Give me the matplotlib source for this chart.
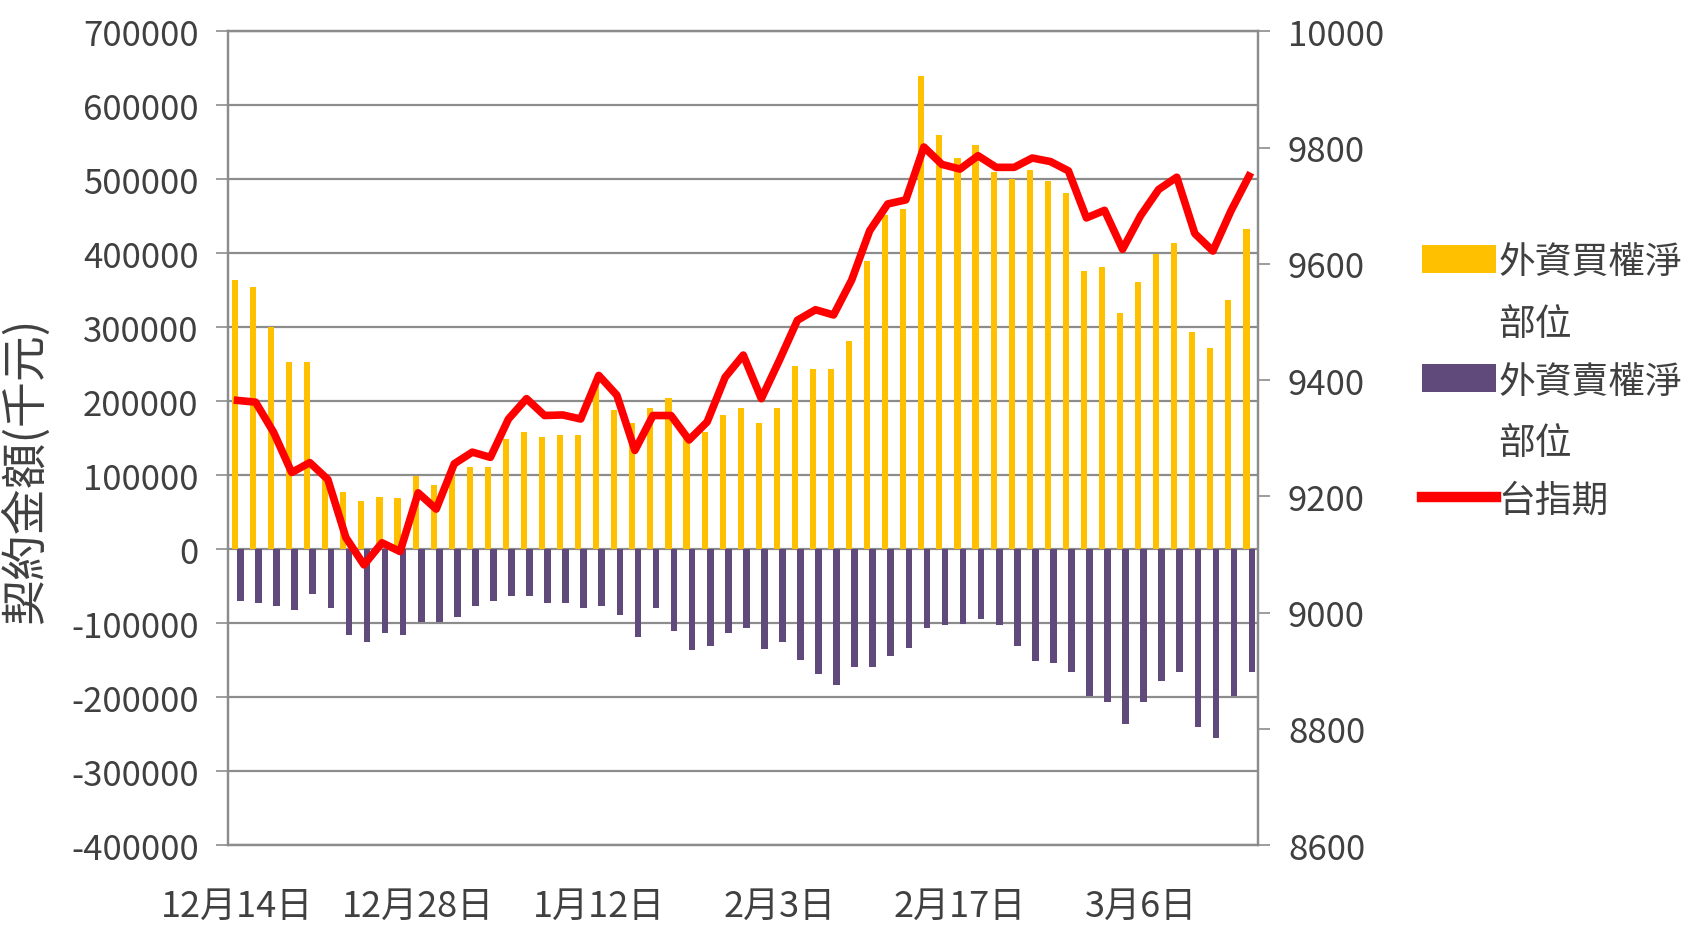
import numpy as np
import matplotlib
matplotlib.use("Agg")
import matplotlib.pyplot as plt
import matplotlib.patches as mpatches
from matplotlib.container import BarContainer
from matplotlib.legend_handler import HandlerPatch, update_from_first_child

plt.rcParams['font.family'] = ['Noto Sans CJK TC', 'DejaVu Sans']
plt.rcParams['axes.unicode_minus'] = False

# 外資買權淨部位 (千元)
buy = [364000, 354500, 300000, 253000, 253000, 95000, 77500, 65000, 71000, 68500,
       99000, 87000, 108000, 111000, 111000, 149000, 158000, 152000, 154500, 154500,
       221000, 188000, 170000, 191000, 204000, 150000, 158000, 182000, 191000, 170000,
       191000, 247000, 244000, 244000, 282000, 389000, 452000, 460000, 639000, 560000,
       529000, 547000, 510000, 500000, 513000, 497000, 482000, 376500, 381000, 319000,
       361000, 399000, 414000, 294000, 272000, 337000, 432500]

# 外資賣權淨部位 (千元)
sell = [-70000, -73000, -76500, -82000, -61000, -80000, -116000, -125000, -113500, -116000,
        -98000, -98000, -91500, -76500, -70000, -64000, -64000, -73000, -73000, -80000,
        -76500, -88700, -119000, -80000, -110000, -137000, -131000, -113500, -107000, -135000,
        -126000, -150000, -168500, -184000, -159000, -159000, -144000, -134000, -107000, -103000,
        -101000, -94000, -103000, -131000, -151000, -153600, -165700, -199000, -206000, -237000,
        -206000, -178000, -165700, -240000, -255000, -198000, -165700]

# 台指期
taiex = [9365, 9362, 9310, 9241, 9258, 9229, 9129, 9082, 9120, 9105,
         9206, 9178, 9256, 9276, 9267, 9333, 9368, 9339, 9340, 9333,
         9408, 9374, 9279, 9339, 9339, 9297, 9328, 9405, 9443, 9368,
         9434, 9503, 9521, 9512, 9572, 9657, 9703, 9710, 9801, 9771,
         9763, 9786, 9766, 9766, 9782, 9776, 9760, 9679, 9692, 9625,
         9683, 9728, 9749, 9652, 9622, 9691, 9751]

tick_pos = [0, 10, 20, 30, 40, 50]
tick_labels = ['12月14日', '12月28日', '1月12日', '2月3日', '2月17日', '3月6日']

txt = '#404040'
grid = '#8c8c8c'

fig = plt.figure(figsize=(16.9, 9.29), dpi=100)
ax = fig.add_axes([0.1352, 0.0893, 0.6092, 0.8759])
x = np.arange(len(buy))

ax.bar(x - 0.14, buy, width=0.34, color='#FFC000', label='外資買權淨\n部位', zorder=2)
ax.bar(x + 0.17, sell, width=0.37, color='#604A7B', label='外資賣權淨\n部位', zorder=2)

ax.set_xlim(-0.5, len(buy) - 0.5)
ax.set_ylim(-400000, 700000)
ax.set_yticks(np.arange(-400000, 700001, 100000))
ax.yaxis.grid(True, color=grid, linewidth=1.6)
ax.set_axisbelow(True)
ax.set_xticks(tick_pos)
ax.set_xticklabels(tick_labels)
ax.tick_params(axis='x', length=0, pad=31, labelsize=26, colors=txt)
ax.tick_params(axis='y', length=8.5, width=1.2, color=grid, pad=13, labelsize=25, labelcolor=txt)
ax.set_ylabel('契約金額(千元)', fontsize=33, color=txt)
ax.yaxis.set_label_coords(-0.173, 0.461)
for s in ax.spines.values():
    s.set_color(grid)
    s.set_linewidth(1.6)

ax2 = ax.twinx()
ax2.plot(x, taiex, color='#FF0000', linewidth=5.5, solid_joinstyle='round', label='台指期', zorder=3)
ax2.set_ylim(8600, 10000)
ax2.set_yticks(np.arange(8600, 10001, 200))
ax2.tick_params(axis='y', length=8.5, width=1.2, color=grid, pad=13, labelsize=25, labelcolor=txt)
for s in ax2.spines.values():
    s.set_color(grid)
    s.set_linewidth(1.6)


def raised_patch(legend, orig_handle, xdescent, ydescent, width, height, fontsize):
    # keep the colour box level with the first line of a two-line label
    return mpatches.Rectangle((-xdescent, -ydescent + 0.98 * fontsize), width, height)


h1, l1 = ax.get_legend_handles_labels()
h2, l2 = ax2.get_legend_handles_labels()
bar_handler = HandlerPatch(patch_func=raised_patch, update_func=update_from_first_child)
leg = fig.legend(h1 + h2, l1 + l2, loc='upper left', bbox_to_anchor=(0.8414, 0.738),
                 frameon=False, fontsize=26.5, handlelength=2.0, handleheight=0.8,
                 handletextpad=0.08, labelspacing=0.5, borderpad=0, borderaxespad=0,
                 handler_map={BarContainer: bar_handler})
for t in leg.get_texts():
    t.set_color(txt)
    t.set_linespacing(1.76)
leg.get_lines()[0].set_linewidth(7.5)

fig.savefig('out.png', dpi=100)
